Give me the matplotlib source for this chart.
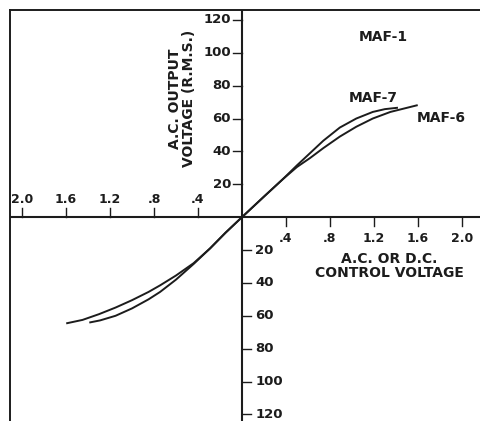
import numpy as np
import matplotlib.pyplot as plt

# curve data (control voltage, output voltage)
maf7_x = [-1.38, -1.29, -1.15, -1.0, -0.85, -0.745, -0.6, -0.44, -0.29, -0.15, 0,
          0.2, 0.37, 0.5, 0.62, 0.74, 0.89, 1.04, 1.19, 1.3, 1.41]
maf7_y = [-64, -62.8, -60, -55.5, -50, -45.5, -38, -28.5, -19, -9.5, 0,
          12.5, 23, 31.5, 39, 46.5, 54.5, 60, 64, 65.7, 66.5]
maf6_x = [-1.59, -1.45, -1.3, -1.15, -1.0, -0.85, -0.745, -0.6, -0.44, -0.29, -0.15, 0,
          0.2, 0.37, 0.5, 0.62, 0.74, 0.89, 1.04, 1.19, 1.35, 1.41, 1.5, 1.59]
maf6_y = [-64.5, -62.5, -59, -55, -50.5, -45.5, -41.5, -35.5, -28, -19, -9.5, 0,
          12.5, 23, 30.5, 36, 42, 49, 55, 60, 64, 65, 66.5, 68]

x_ticks = [0.4, 0.8, 1.2, 1.6, 2.0]
x_tick_labels = ['.4', '.8', '1.2', '1.6', '2.0']
y_ticks = [20, 40, 60, 80, 100, 120]

ink = '#1c1c1c'
font = dict(family='DejaVu Sans', fontweight='bold', color=ink)

fig = plt.figure(figsize=(4.8, 4.21), dpi=100)
ax = fig.add_axes([10 / 480, 0, 470 / 480, 411 / 421])
ax.set_xlim(-2.11, 2.165)
ax.set_ylim(-124, 126)
for side in ['right', 'bottom']:
    ax.spines[side].set_visible(False)
for side in ['left', 'top']:
    ax.spines[side].set_color(ink)
    ax.spines[side].set_linewidth(1.4)
ax.set_xticks([])
ax.set_yticks([])

# the crossing axes
ax.axhline(0, color=ink, lw=1.5)
ax.axvline(0, color=ink, lw=1.5)

# x ticks: left half above the axis, right half below
for v, lab in zip(x_ticks, x_tick_labels):
    ax.plot([v, v], [0, -5.5], color=ink, lw=1.0)
    ax.text(v, -13, lab, ha='center', va='center', fontsize=9, **font)
    ax.plot([-v, -v], [0, 5.5], color=ink, lw=1.0)
    ax.text(-v, 11, lab, ha='center', va='center', fontsize=9, **font)

# y ticks: upper half labelled left, lower half labelled right
for v in y_ticks:
    ax.plot([0, -0.08], [v, v], color=ink, lw=1.0)
    ax.text(-0.1, v, str(v), ha='right', va='center', fontsize=9.5, **font)
    ax.plot([0, 0.08], [-v, -v], color=ink, lw=1.0)
    ax.text(0.12, -v, str(v), ha='left', va='center', fontsize=9.5, **font)

ax.plot(maf7_x, maf7_y, color=ink, lw=1.4)
ax.plot(maf6_x, maf6_y, color=ink, lw=1.4)

ax.text(1.29, 109.6, 'MAF-1', ha='center', va='center', fontsize=10, **font)
ax.text(1.19, 72.6, 'MAF-7', ha='center', va='center', fontsize=10, **font)
ax.text(1.81, 60.5, 'MAF-6', ha='center', va='center', fontsize=10, **font)

ax.text(-0.55, 72, 'A.C. OUTPUT\nVOLTAGE (R.M.S.)', rotation=90, ha='center', va='center',
        fontsize=10, linespacing=1.0, **font)
ax.text(1.34, -30, 'A.C. OR D.C.\nCONTROL VOLTAGE', ha='center', va='center',
        fontsize=10, linespacing=1.0, **font)

fig.savefig('out.png', dpi=100)
